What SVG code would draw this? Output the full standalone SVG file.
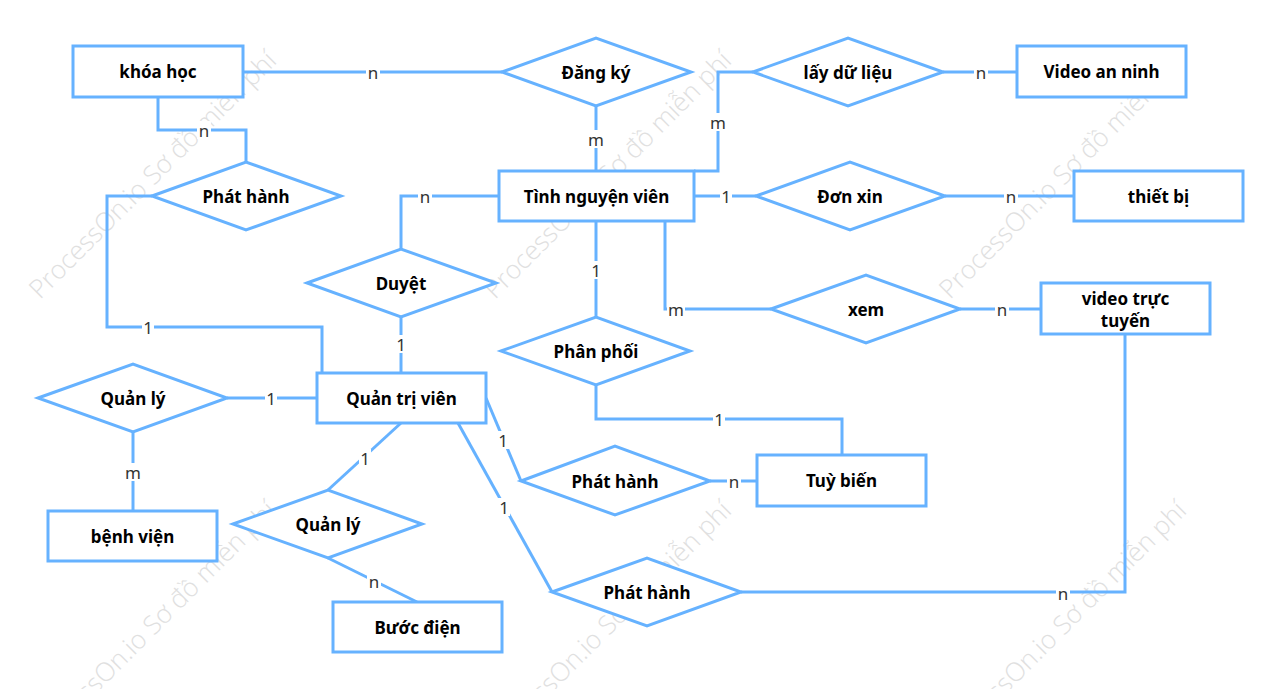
<svg xmlns="http://www.w3.org/2000/svg" width="1280" height="689" viewBox="0 0 1280 689">
<style>
.wm{font-family:"Open Sans","Noto Sans",sans-serif;font-size:26px;font-weight:300;fill:#e0e0e0}
.ent{fill:#fff;stroke:#66b2ff;stroke-width:3}
.rel{fill:#fff;stroke:#66b2ff;stroke-width:3}
.edge{fill:none;stroke:#66b2ff;stroke-width:3}
.t{font-family:"Noto Sans","DejaVu Sans",sans-serif;font-size:17px;font-weight:bold;fill:#000;text-anchor:middle;dominant-baseline:central}
.lb{font-family:"Noto Sans","DejaVu Sans",sans-serif;font-size:17px;fill:#333;text-anchor:middle;dominant-baseline:central}
.lbg{fill:#fff}
</style>
<rect width="1280" height="689" fill="#fff"/>
<g id="watermark">
<text class="wm" transform="translate(40,300) rotate(-45)">ProcessOn.io Sơ đồ miễn phí</text>
<text class="wm" transform="translate(495,300) rotate(-45)">ProcessOn.io Sơ đồ miễn phí</text>
<text class="wm" transform="translate(950,300) rotate(-45)">ProcessOn.io Sơ đồ miễn phí</text>
<text class="wm" transform="translate(40,750) rotate(-45)">ProcessOn.io Sơ đồ miễn phí</text>
<text class="wm" transform="translate(495,750) rotate(-45)">ProcessOn.io Sơ đồ miễn phí</text>
<text class="wm" transform="translate(950,750) rotate(-45)">ProcessOn.io Sơ đồ miễn phí</text>
</g>
<g id="connectors">
<path class="edge" d="M243 72H502"/>
<path class="edge" d="M158 97V130H246V162"/>
<path class="edge" d="M152 196H107V327H322V373"/>
<path class="edge" d="M596 106V171"/>
<path class="edge" d="M694 171H718V72H753"/>
<path class="edge" d="M943 72H1017"/>
<path class="edge" d="M694 196H756"/>
<path class="edge" d="M945 196H1074"/>
<path class="edge" d="M499 196H401V249"/>
<path class="edge" d="M401 317V373"/>
<path class="edge" d="M596 221V317"/>
<path class="edge" d="M665 221V309H771"/>
<path class="edge" d="M960 309H1041"/>
<path class="edge" d="M596 385V419H842V455"/>
<path class="edge" d="M227 398H317"/>
<path class="edge" d="M133 432V511"/>
<path class="edge" d="M401 423L328 490"/>
<path class="edge" d="M328 558L417 602"/>
<path class="edge" d="M486 398L521 481"/>
<path class="edge" d="M458 423L552 592"/>
<path class="edge" d="M741 592H1125V334"/>
<path class="edge" d="M710 481H757"/>
<g id="labels">
<rect class="lbg" x="366" y="63" width="14" height="18"/><text class="lb" x="373" y="72">n</text>
<rect class="lbg" x="197" y="121" width="14" height="18"/><text class="lb" x="204" y="130">n</text>
<rect class="lbg" x="142" y="318" width="12" height="18"/><text class="lb" x="148" y="327">1</text>
<rect class="lbg" x="587" y="130" width="18" height="18"/><text class="lb" x="596" y="139">m</text>
<rect class="lbg" x="709" y="113" width="18" height="18"/><text class="lb" x="718" y="122">m</text>
<rect class="lbg" x="974" y="63" width="14" height="18"/><text class="lb" x="981" y="72">n</text>
<rect class="lbg" x="720" y="187" width="12" height="18"/><text class="lb" x="726" y="196">1</text>
<rect class="lbg" x="1004" y="187" width="14" height="18"/><text class="lb" x="1011" y="196">n</text>
<rect class="lbg" x="418" y="187" width="14" height="18"/><text class="lb" x="425" y="196">n</text>
<rect class="lbg" x="395" y="335" width="12" height="18"/><text class="lb" x="401" y="344">1</text>
<rect class="lbg" x="590" y="261" width="12" height="18"/><text class="lb" x="596" y="270">1</text>
<rect class="lbg" x="667" y="300" width="18" height="18"/><text class="lb" x="676" y="309">m</text>
<rect class="lbg" x="995" y="300" width="14" height="18"/><text class="lb" x="1002" y="309">n</text>
<rect class="lbg" x="713" y="410" width="12" height="18"/><text class="lb" x="719" y="419">1</text>
<rect class="lbg" x="265" y="389" width="12" height="18"/><text class="lb" x="271" y="398">1</text>
<rect class="lbg" x="124" y="463" width="18" height="18"/><text class="lb" x="133" y="472">m</text>
<rect class="lbg" x="359" y="449" width="12" height="18"/><text class="lb" x="365" y="458">1</text>
<rect class="lbg" x="367" y="572" width="14" height="18"/><text class="lb" x="374" y="581">n</text>
<rect class="lbg" x="497" y="431" width="12" height="18"/><text class="lb" x="503" y="440">1</text>
<rect class="lbg" x="498" y="498" width="12" height="18"/><text class="lb" x="504" y="507">1</text>
<rect class="lbg" x="1056" y="584" width="14" height="18"/><text class="lb" x="1063" y="593">n</text>
<rect class="lbg" x="727" y="472" width="14" height="18"/><text class="lb" x="734" y="481">n</text>
</g>
</g>
<g id="khoa-hoc"><rect class="ent" x="73" y="46" width="170" height="51"/><text class="t" x="158" y="71.5">khóa học</text></g>
<g id="video-an-ninh"><rect class="ent" x="1017" y="46" width="169" height="51"/><text class="t" x="1101.5" y="71.5">Video an ninh</text></g>
<g id="tinh-nguyen-vien"><rect class="ent" x="499" y="171" width="195" height="50"/><text class="t" x="596.5" y="196">Tình nguyện viên</text></g>
<g id="thiet-bi"><rect class="ent" x="1074" y="171" width="169" height="50"/><text class="t" x="1158.5" y="196">thiết bị</text></g>
<g id="video-truc-tuyen"><rect class="ent" x="1041" y="283" width="169" height="51"/><text class="t" x="1125.5" y="298">video trực</text><text class="t" x="1125.5" y="320">tuyến</text></g>
<g id="quan-tri-vien"><rect class="ent" x="317" y="373" width="169" height="50"/><text class="t" x="401.5" y="398">Quản trị viên</text></g>
<g id="tuy-bien"><rect class="ent" x="757" y="455" width="169" height="51"/><text class="t" x="841.5" y="480.5">Tuỳ biến</text></g>
<g id="benh-vien"><rect class="ent" x="48" y="511" width="169" height="50"/><text class="t" x="132.5" y="536">bệnh viện</text></g>
<g id="buoc-dien"><rect class="ent" x="333" y="602" width="169" height="50"/><text class="t" x="417.5" y="627">Bước điện</text></g>
<g id="dang-ky"><polygon class="rel" points="502,72 596,38 691,72 596,106"/><text class="t" x="596" y="72">Đăng ký</text></g>
<g id="lay-du-lieu"><polygon class="rel" points="753,72 848,38 943,72 848,106"/><text class="t" x="848" y="72">lấy dữ liệu</text></g>
<g id="phat-hanh-1"><polygon class="rel" points="152,196 246,162 341,196 246,230"/><text class="t" x="246" y="196">Phát hành</text></g>
<g id="don-xin"><polygon class="rel" points="756,196 850,162 945,196 850,230"/><text class="t" x="850" y="196">Đơn xin</text></g>
<g id="duyet"><polygon class="rel" points="307,283 401,249 496,283 401,317"/><text class="t" x="401" y="283">Duyệt</text></g>
<g id="xem"><polygon class="rel" points="771,309 866,275 960,309 866,343"/><text class="t" x="866" y="309">xem</text></g>
<g id="phan-phoi"><polygon class="rel" points="501,351 596,317 690,351 596,385"/><text class="t" x="596" y="351">Phân phối</text></g>
<g id="quan-ly-1"><polygon class="rel" points="38,398 133,364 227,398 133,432"/><text class="t" x="133" y="398">Quản lý</text></g>
<g id="phat-hanh-2"><polygon class="rel" points="521,481 615,446 710,481 615,515"/><text class="t" x="615" y="481">Phát hành</text></g>
<g id="quan-ly-2"><polygon class="rel" points="233,524 328,490 422,524 328,558"/><text class="t" x="328" y="524">Quản lý</text></g>
<g id="phat-hanh-3"><polygon class="rel" points="552,592 647,558 741,592 647,626"/><text class="t" x="647" y="592">Phát hành</text></g>
</svg>
